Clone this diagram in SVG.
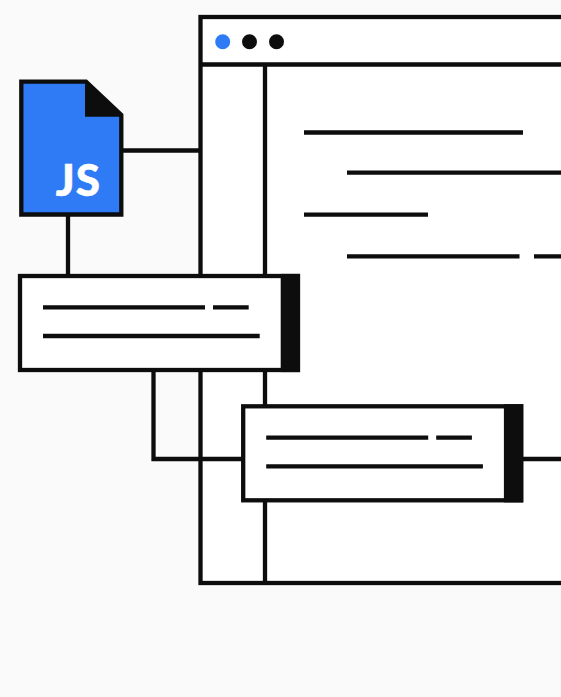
<svg xmlns="http://www.w3.org/2000/svg" width="561" height="697" viewBox="0 0 561 697">
<style>
.s{fill:none;stroke:#0d0d0d;stroke-width:4.300}
.b{fill:#fff;stroke:#0d0d0d;stroke-width:4.300}
.k{fill:#0d0d0d}
.js{font-family:"Lato","Liberation Sans",sans-serif;font-weight:900;font-size:44px;letter-spacing:1px;fill:#fff;stroke:#fff;stroke-width:.5}
</style>
<rect width="561" height="697" fill="#fafafa"/>
<g id="window">
<rect class="b" x="200.5" y="17" width="400" height="566"/>
<path class="s" d="M200.500 64.500H561M265 64.500V583"/>
<circle cx="222.700" cy="41.700" r="7.500" fill="#2f7bf6"/>
<circle class="k" cx="249.500" cy="41.700" r="7.500"/>
<circle class="k" cx="276.500" cy="41.700" r="7.500"/>
<path class="s" d="M304 132.500H523M347 172.600H561M304 214.700H428M347 256.300H519.500M534 256.300H561"/>
</g>
<g id="connectors">
<path class="s" d="M121 150.500H200.500M68 214V276M153.500 370V459H243M523 459H561"/>
</g>
<g id="file">
<path d="M21.300 81.600H86L121.300 115V214.500H21.300Z" fill="#2f7bf6" stroke="#0d0d0d" stroke-width="4.300"/>
<path class="k" d="M85 81.600L121.300 116.700H85Z"/>
<text class="js" x="78.500" y="195.500" text-anchor="middle">JS</text>
</g>
<g id="box1">
<rect class="b" x="20" y="276" width="278" height="94"/>
<rect class="k" x="280.700" y="273.900" width="19.300" height="98.200"/>
<path class="s" d="M43 307.300H205M213 307.300H248.700M43 336H259.700"/>
</g>
<g id="box2">
<rect class="b" x="243.200" y="406.300" width="278" height="94"/>
<rect class="k" x="503.900" y="404.200" width="19.300" height="98.200"/>
<path class="s" d="M266.200 437.600H428.200M436.200 437.600H471.900M266.200 466.300H482.900"/>
</g>
</svg>
